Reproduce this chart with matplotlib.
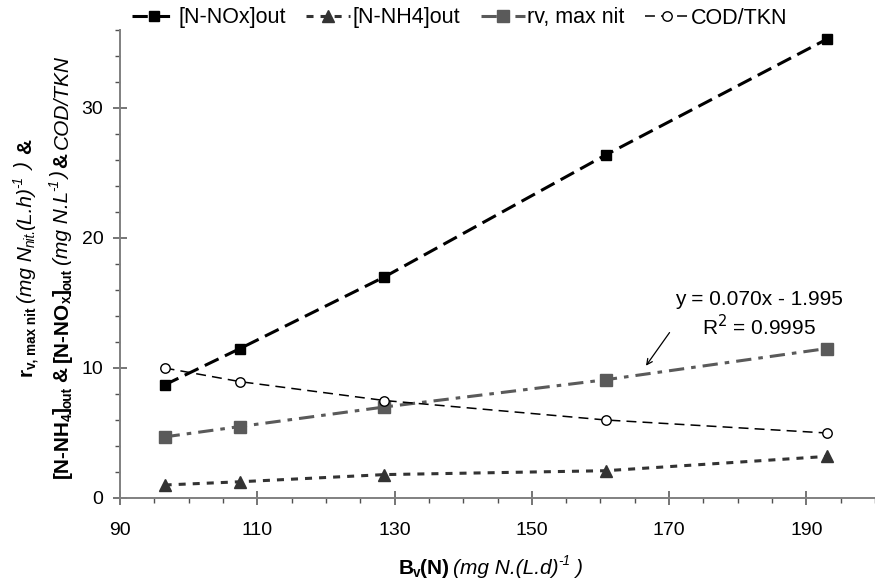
import matplotlib
matplotlib.use("Agg")
import matplotlib.pyplot as plt
from matplotlib.ticker import MultipleLocator, FixedLocator

plt.rcParams['font.family'] = ['Liberation Sans', 'DejaVu Sans']

# data
bv = [96.5, 107.5, 128.5, 160.8, 193.0]
nox_out = [8.7, 11.5, 17.0, 26.4, 35.3]
nh4_out = [1.0, 1.25, 1.8, 2.1, 3.2]
rv_max_nit = [4.7, 5.5, 7.0, 9.1, 11.5]
cod_tkn = [10.0, 8.95, 7.5, 6.0, 5.0]

labels = ["[N-NOx]out", "[N-NH4]out", "rv, max nit", "COD/TKN"]
xticks = [90, 110, 130, 150, 170, 190]
yticks = [0, 10, 20, 30]
fit_text = "y = 0.070x - 1.995\nR$^2$ = 0.9995"

# rich text pieces: (text, weight, style, kind)  kind: n / sub / sup / gap
B, I = 'bold', 'italic'
xlab = [('B', B, 'normal', 'n'), ('v', B, 'normal', 'sub'), ('(N)', B, 'normal', 'n'),
        ('', '', '', 'gap'), ('(mg N.(L.d)', 'normal', I, 'n'),
        ('-1', 'normal', I, 'sup'), ('', '', '', 'gap'), (')', 'normal', I, 'n')]
ylab1 = [('r', B, 'normal', 'n'), ('v, max nit', B, 'normal', 'sub'),
         ('', '', '', 'gap'), ('(mg N', 'normal', I, 'n'), ('nit.', 'normal', I, 'sub'),
         ('(L.h)', 'normal', I, 'n'), ('-1', 'normal', I, 'sup'), ('', '', '', 'gap'),
         (')', 'normal', I, 'n'), ('', '', '', 'gap'), ('', '', '', 'gap'),
         ('&', B, 'normal', 'n')]
ylab2 = [('[N-NH', B, 'normal', 'n'), ('4', B, 'normal', 'sub'), (']', B, 'normal', 'n'),
         ('out', B, 'normal', 'sub'), ('', '', '', 'gap'), ('&', B, 'normal', 'n'),
         ('', '', '', 'gap'), ('[N-NO', B, 'normal', 'n'), ('x', B, 'normal', 'sub'),
         (']', B, 'normal', 'n'), ('out', B, 'normal', 'sub'), ('', '', '', 'gap'),
         ('(mg N.L', 'normal', I, 'n'), ('-1', 'normal', I, 'sup'), (')', 'normal', I, 'n'),
         ('', '', '', 'gap'), ('&', B, 'normal', 'n'), ('', '', '', 'gap'),
         ('COD/TKN', 'normal', I, 'n')]


def rich_text(fig, pieces, cx, cy, size, rot=0):
    # lay out mixed bold/italic/sub/sup pieces centred on pixel (cx, cy)
    r = fig.canvas.get_renderer()
    W, H = fig.bbox.width, fig.bbox.height
    px = size * fig.dpi / 72
    widths = []
    for s, w, st, kind in pieces:
        if kind == 'gap':
            widths.append(0.28 * px)
            continue
        sz = size * (0.65 if kind in ('sub', 'sup') else 1)
        t = fig.text(0, 0, s, fontsize=sz, fontweight=w, fontstyle=st)
        widths.append(t.get_window_extent(r).width - 1.0)
        t.remove()
    pos = -sum(widths) / 2
    for (s, w, st, kind), wd in zip(pieces, widths):
        if kind != 'gap':
            sz = size * (0.65 if kind in ('sub', 'sup') else 1)
            shift = {'n': 0, 'sub': -0.18 * px, 'sup': 0.42 * px}[kind] - 0.36 * px
            if rot == 0:
                x, y = cx + pos, cy + shift
            else:
                x, y = cx - shift, cy + pos
            fig.text(x / W, y / H, s, fontsize=sz, fontweight=w, fontstyle=st,
                     rotation=rot, rotation_mode='anchor', ha='left', va='baseline')
        pos += wd


fig = plt.figure(figsize=(8.75, 5.83), dpi=100)
ax = fig.add_axes([120/875, 1 - 498/583, 755/875, 468/583])

ax.plot(bv, nox_out, color='black', lw=2.2, dashes=(5, 2.3),
        marker='s', ms=7.5, label=labels[0])
ax.plot(bv, nh4_out, color='#333333', lw=2.2, dashes=(2.3, 2.3),
        marker='^', ms=8, label=labels[1])
ax.plot(bv, rv_max_nit, color='#5a5a5a', lw=2.2, dashes=(5, 2.3, 1.5, 2.3),
        marker='s', ms=8.4, label=labels[2])
ax.plot(bv, cod_tkn, color='black', lw=1.1, dashes=(6.5, 4),
        marker='o', ms=6.8, mfc='white', mew=1.0, label=labels[3])

ax.annotate('', xy=(166.4, 10.0), xytext=(170.3, 12.9),
            arrowprops=dict(arrowstyle='->', color='black', lw=0.9))
ax.text(183.1, 14.1, fit_text, ha='center', va='center', fontsize=15,
        linespacing=1.2)

ax.set_xlim(90, 200)
ax.set_ylim(0, 36)
ax.xaxis.set_major_locator(FixedLocator(xticks))
ax.xaxis.set_minor_locator(MultipleLocator(5))
ax.yaxis.set_major_locator(FixedLocator(yticks))
ax.yaxis.set_minor_locator(MultipleLocator(2))

for s in ['top', 'right']:
    ax.spines[s].set_visible(False)
for s in ['left', 'bottom']:
    ax.spines[s].set_color('#808080')
    ax.spines[s].set_linewidth(1.4)
ax.tick_params(which='major', direction='inout', length=10, width=1.1,
               color='#505050', labelsize=14)
ax.tick_params(which='minor', direction='out', length=3.8, width=1.0,
               color='#505050')
ax.tick_params(axis='x', which='major', pad=12)
ax.tick_params(axis='y', which='major', pad=7)

ax.legend(loc='center left', bbox_to_anchor=(12/755, 1 + 12/468), ncol=4,
          frameon=False, fontsize=15.5, handlelength=2.05, handletextpad=0.1,
          columnspacing=0.95, borderaxespad=0, borderpad=0)

rich_text(fig, xlab, 490, 583 - 566, 15)
rich_text(fig, ylab1, 24, 583 - 258, 15, rot=90)
rich_text(fig, ylab2, 60, 583 - 267, 15, rot=90)

fig.savefig('out.png', dpi=100)
